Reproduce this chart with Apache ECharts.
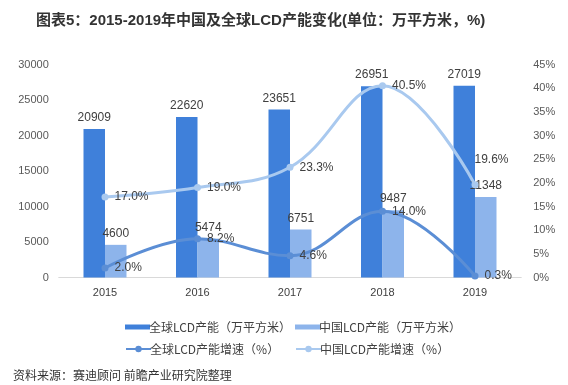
<!DOCTYPE html>
<html><head><meta charset="utf-8">
<script src="https://cdn.jsdelivr.net/npm/echarts@6/dist/echarts.min.js"></script>
<style>html,body{margin:0;padding:0;background:#fff}#c{width:568px;height:385px}</style>
</head><body><div id="c"></div>
<script>
const years = ['2015','2016','2017','2018','2019'];
const globalCap = [20909, 22620, 23651, 26951, 27019];
const chinaCap = [4600, 5474, 6751, 9487, 11348];
const globalGrowth = [2.0, 8.2, 4.6, 14.0, 0.3];
const chinaGrowth = [17.0, 19.0, 23.3, 40.5, 19.6];
const leftTicks = {min: 0, max: 30000, interval: 5000};
const rightTicks = {min: 0, max: 45, interval: 5};

const names = ['全球LCD产能（万平方米）','中国LCD产能（万平方米）','全球LCD产能增速（%）','中国LCD产能增速（%）'];
const cDark = '#3f80da', cLight = '#8db4eb', cLineDark = '#5b8ed5', cLineLight = '#a9c9ef';
const font = '"Microsoft YaHei","Noto Sans CJK SC",sans-serif';
const lblStyle = {color:'#404040', fontSize:12, fontFamily:'Arial,"Liberation Sans",sans-serif'};

const chart = echarts.init(document.getElementById('c'));
function legend(i, left, top, icon){
  return {data:[names[i]], left:left, top:top, itemWidth:25, itemHeight: icon==='rect'?5:8, itemGap:0,
    icon: icon==='rect' ? 'rect' : undefined,
    textStyle:{color:'#404040', fontSize:12, fontFamily:font, padding:[0,0,0,-6]}};
}
chart.setOption({
  animation:false,
  title:[{text:'图表5：2015-2019年中国及全球LCD产能变化(单位：万平方米，%)', left:31, top:8,
    textStyle:{fontSize:15, fontWeight:'bold', color:'#333', fontFamily:'Arial,"Noto Sans CJK SC",sans-serif'}},
    {text:'资料来源：赛迪顾问 前瞻产业研究院整理', left:8, top:364,
    textStyle:{fontSize:12, fontWeight:'normal', color:'#333', fontFamily:font}}],
  legend:[legend(0,120,316,'rect'), legend(1,290,316,'rect'), legend(2,120,338), legend(3,290,338)],
  grid:{left:58.75, right:46.75, top:64.5, bottom:107.5},
  xAxis:{type:'category', data:years, axisTick:{show:false},
    axisLine:{lineStyle:{color:'#d9d9d9'}},
    axisLabel:{color:'#404040', fontSize:11, margin:10}},
  yAxis:[{type:'value', min:leftTicks.min, max:leftTicks.max, interval:leftTicks.interval,
      splitLine:{show:false}, axisLine:{show:false}, axisTick:{show:false},
      axisLabel:{color:'#595959', fontSize:11, margin:10, formatter:v=>String(v)}},
    {type:'value', min:rightTicks.min, max:rightTicks.max, interval:rightTicks.interval,
      splitLine:{show:false}, axisLine:{show:false}, axisTick:{show:false},
      axisLabel:{color:'#595959', fontSize:11, margin:12, formatter:'{value}%'}}],
  series:[
    {name:names[0], type:'bar', data:globalCap, barWidth:21.5, barGap:'0%', itemStyle:{color:cDark},
      label:{show:true, position:'top', distance:5, ...lblStyle}},
    {name:names[1], type:'bar', data:chinaCap, barWidth:21.5, itemStyle:{color:cLight},
      label:{show:true, position:'top', distance:5, ...lblStyle}},
    {name:names[2], type:'line', yAxisIndex:1, data:globalGrowth, smooth:0.4, symbol:'circle', symbolSize:7,
      lineStyle:{width:3, color:cLineDark}, itemStyle:{color:cLineDark}, z:5,
      label:{show:true, position:'right', distance:6, formatter:p=>p.value.toFixed(1)+'%', ...lblStyle}},
    {name:names[3], type:'line', yAxisIndex:1, smooth:0.4, symbol:'circle', symbolSize:7,
      data:chinaGrowth.map((v,i)=> i===4 ? {value:v, label:{offset:[-10,-25]}} : v),
      lineStyle:{width:3, color:cLineLight}, itemStyle:{color:cLineLight}, z:5,
      label:{show:true, position:'right', distance:6, formatter:p=>p.value.toFixed(1)+'%', ...lblStyle}}
  ]
});
</script></body></html>
